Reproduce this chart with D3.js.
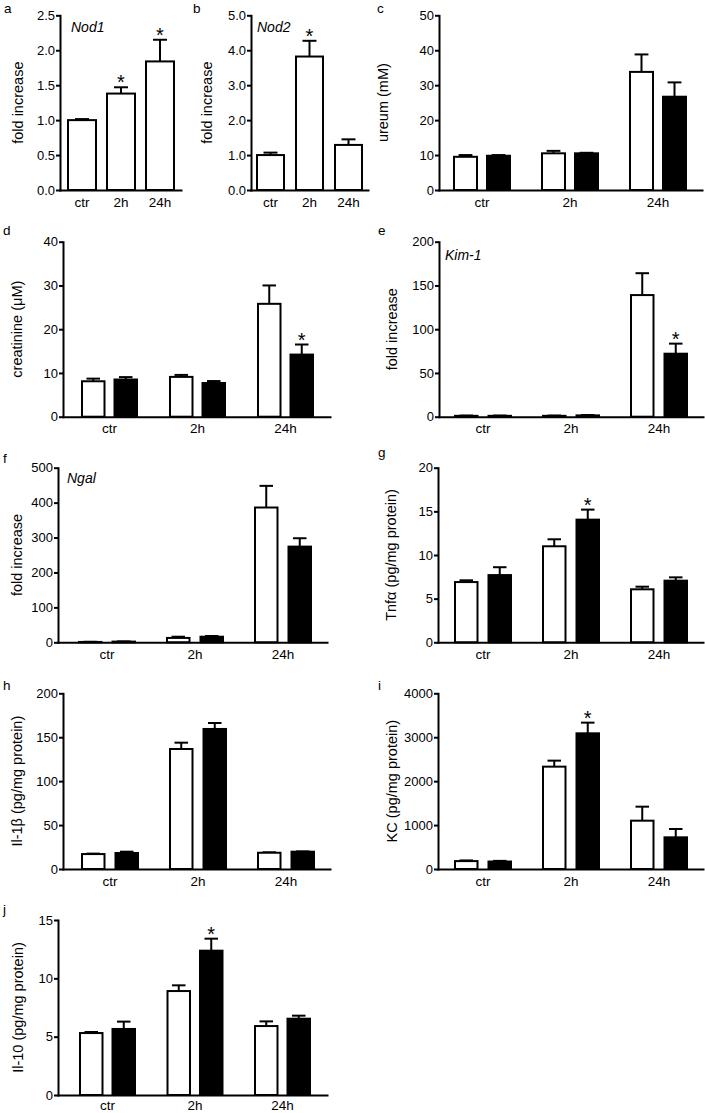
<!DOCTYPE html>
<html><head><meta charset="utf-8">
<script src="https://cdn.jsdelivr.net/npm/d3@7"></script>
<style>
body{margin:0;background:#fff}
svg{display:block}
text{font-family:"Liberation Sans",Arial,Helvetica,sans-serif;fill:#000}
</style>
</head><body>
<svg id="chart" width="705" height="1113"></svg>
<script>
// ---------------- DATA ----------------
const categories = ["ctr", "2h", "24h"];

// a: Nod1
const nod1Mean = [1.00, 1.38, 1.84];
const nod1Sem  = [0.015, 0.09, 0.31];
const nod1Star = [false, true, true];
const nod1Ticks = [0, 0.5, 1.0, 1.5, 2.0, 2.5];
// b: Nod2
const nod2Mean = [1.00, 3.82, 1.29];
const nod2Sem  = [0.07, 0.45, 0.16];
const nod2Star = [false, true, false];
const nod2Ticks = [0, 1, 2, 3, 4, 5];
// c: ureum (white = open bars, black = filled bars)
const ureumWhite = [9.5, 10.5, 33.8];
const ureumWhiteSem = [0.5, 0.7, 5.0];
const ureumBlack = [9.8, 10.5, 26.7];
const ureumBlackSem = [0.2, 0.15, 4.1];
const ureumTicks = [0, 10, 20, 30, 40, 50];
// d: creatinine
const creatWhite = [8.1, 9.1, 25.8];
const creatWhiteSem = [0.6, 0.45, 4.2];
const creatBlack = [8.5, 7.7, 14.2];
const creatBlackSem = [0.55, 0.45, 2.3];
const creatBlackStar = [false, false, true];
const creatTicks = [0, 10, 20, 30, 40];
// e: Kim-1
const kimWhite = [1.0, 1.0, 139];
const kimWhiteSem = [0.3, 0.3, 25];
const kimBlack = [1.0, 1.5, 72];
const kimBlackSem = [0.3, 0.4, 11.5];
const kimBlackStar = [false, false, true];
const kimTicks = [0, 50, 100, 150, 200];
// f: Ngal
const ngalWhite = [1.0, 12.5, 386];
const ngalWhiteSem = [0.5, 3.5, 62];
const ngalBlack = [2.0, 16, 274];
const ngalBlackSem = [0.5, 2, 24];
const ngalTicks = [0, 100, 200, 300, 400, 500];
// g: Tnfa
const tnfWhite = [6.9, 11.0, 6.07];
const tnfWhiteSem = [0.2, 0.8, 0.3];
const tnfBlack = [7.7, 14.05, 7.06];
const tnfBlackSem = [0.9, 1.15, 0.38];
const tnfBlackStar = [false, true, false];
const tnfTicks = [0, 5, 10, 15, 20];
// h: Il-1b
const il1White = [17, 136.6, 18.5];
const il1WhiteSem = [0.5, 7.2, 0.5];
const il1Black = [18.2, 159.4, 19.7];
const il1BlackSem = [1.5, 6.8, 0.3];
const il1Ticks = [0, 50, 100, 150, 200];
// i: KC
const kcWhite = [180, 2330, 1100];
const kcWhiteSem = [15, 137, 319];
const kcBlack = [170, 3089, 721];
const kcBlackSem = [15, 243, 190];
const kcBlackStar = [false, true, false];
const kcTicks = [0, 1000, 2000, 3000, 4000];
// j: Il-10
const il10White = [5.31, 8.91, 5.91];
const il10WhiteSem = [0.09, 0.49, 0.4];
const il10Black = [5.66, 12.37, 6.54];
const il10BlackSem = [0.63, 1.03, 0.26];
const il10BlackStar = [false, true, false];
const il10Ticks = [0, 5, 10, 15];

// ---------------- LAYOUT ----------------
const OPEN = "#ffffff", FILLED = "#000000";
const panels = [
  {letter:"a", lx:4, ly:13, title:"fold increase", tcx:18.5, gene:"Nod1", gx:71, gy:32,
   x0:60, x1:181, yTop:15.3, yBot:190, gStart:68, step:39, gW:28, barW:28,
   ticks:nod1Ticks, fmt:".1f",
   series:[{mean:nod1Mean, sem:nod1Sem, fill:OPEN, star:nod1Star}]},
  {letter:"b", lx:193, ly:13, title:"fold increase", tcx:207, gene:"Nod2", gx:257, gy:32,
   x0:251, x1:368, yTop:15.3, yBot:190, gStart:257, step:39, gW:27, barW:27,
   ticks:nod2Ticks, fmt:".1f",
   series:[{mean:nod2Mean, sem:nod2Sem, fill:OPEN, star:nod2Star}]},
  {letter:"c", lx:377, ly:13, title:"ureum (mM)", tcx:383,
   x0:439, x1:702, yTop:15.3, yBot:190, gStart:454, step:88, gW:56, barW:23,
   ticks:ureumTicks, fmt:"d",
   series:[{mean:ureumWhite, sem:ureumWhiteSem, fill:OPEN},
           {mean:ureumBlack, sem:ureumBlackSem, fill:FILLED}]},
  {letter:"d", lx:3, ly:235, title:"creatinine (\u03BCM)", tcx:17.5,
   x0:63, x1:330, yTop:241.7, yBot:416.7, gStart:82, step:88, gW:55, barW:22.5,
   ticks:creatTicks, fmt:"d",
   series:[{mean:creatWhite, sem:creatWhiteSem, fill:OPEN},
           {mean:creatBlack, sem:creatBlackSem, fill:FILLED, star:creatBlackStar}]},
  {letter:"e", lx:378, ly:235, title:"fold increase", tcx:392, gene:"Kim-1", gx:445, gy:260,
   x0:439, x1:703, yTop:241.7, yBot:416.7, gStart:455, step:88, gW:56, barW:22.5,
   ticks:kimTicks, fmt:"d",
   series:[{mean:kimWhite, sem:kimWhiteSem, fill:OPEN},
           {mean:kimBlack, sem:kimBlackSem, fill:FILLED, star:kimBlackStar}]},
  {letter:"f", lx:3, ly:463, title:"fold increase", tcx:17.5, gene:"Ngal", gx:67, gy:483,
   x0:58, x1:327, yTop:467.7, yBot:642.3, gStart:79, step:88, gW:56, barW:22.5,
   ticks:ngalTicks, fmt:"d",
   series:[{mean:ngalWhite, sem:ngalWhiteSem, fill:OPEN},
           {mean:ngalBlack, sem:ngalBlackSem, fill:FILLED}]},
  {letter:"g", lx:378, ly:457, title:"Tnf\u03B1 (pg/mg protein)", tcx:391,
   x0:438, x1:703, yTop:467.7, yBot:642.3, gStart:455, step:88, gW:56, barW:22.5,
   ticks:tnfTicks, fmt:"d",
   series:[{mean:tnfWhite, sem:tnfWhiteSem, fill:OPEN},
           {mean:tnfBlack, sem:tnfBlackSem, fill:FILLED, star:tnfBlackStar}]},
  {letter:"h", lx:3, ly:690, title:"Il-1\u03B2 (pg/mg protein)", tcx:17,
   x0:63, x1:330, yTop:693.3, yBot:869, gStart:82, step:88, gW:56, barW:22.5,
   ticks:il1Ticks, fmt:"d",
   series:[{mean:il1White, sem:il1WhiteSem, fill:OPEN},
           {mean:il1Black, sem:il1BlackSem, fill:FILLED}]},
  {letter:"i", lx:378, ly:690, title:"KC (pg/mg protein)", tcx:392,
   x0:438, x1:703, yTop:693.3, yBot:869, gStart:455, step:88, gW:56, barW:22.5,
   ticks:kcTicks, fmt:"d",
   series:[{mean:kcWhite, sem:kcWhiteSem, fill:OPEN},
           {mean:kcBlack, sem:kcBlackSem, fill:FILLED, star:kcBlackStar}]},
  {letter:"j", lx:3, ly:914, title:"Il-10 (pg/mg protein)", tcx:18, xpad:5,
   x0:58, x1:327, yTop:920, yBot:1095, gStart:80, step:87.5, gW:55, barW:22.5,
   ticks:il10Ticks, fmt:"d",
   series:[{mean:il10White, sem:il10WhiteSem, fill:OPEN},
           {mean:il10Black, sem:il10BlackSem, fill:FILLED, star:il10BlackStar}]}
];

const svg = d3.select("#chart");
const LW = 2;

function drawPanel(p) {
  const g = svg.append("g");
  const n = categories.length;
  const pi = 1 - p.gW / p.step;
  const po = ((p.x1 - p.x0) / p.step - n + pi) / 2;
  const align = (p.gStart - p.x0) / ((p.x1 - p.x0) - p.step * (n - pi));
  const x = d3.scaleBand().domain(categories).range([p.x0, p.x1])
    .paddingInner(pi).paddingOuter(po).align(align);
  const ns = p.series.length;
  const xs = d3.scaleBand().domain(d3.range(ns)).range([0, x.bandwidth()]);
  if (ns > 1) {
    const si = (p.gW - p.barW) / (ns - 1);
    xs.paddingInner(1 - p.barW / si).paddingOuter(0);
  }
  const y = d3.scaleLinear().domain([0, d3.max(p.ticks)]).range([p.yBot, p.yTop]);

  // bars, error bars, stars
  p.series.forEach((s, si) => {
    const data = categories.map((c, i) => ({c, m: s.mean[i], e: s.sem[i], star: s.star ? s.star[i] : false}));
    const bw = xs.bandwidth();
    const cx = d => x(d.c) + xs(si) + bw / 2;
    g.selectAll(null).data(data).join("line")
      .attr("x1", cx).attr("x2", cx)
      .attr("y1", d => y(d.m)).attr("y2", d => y(d.m + d.e))
      .attr("stroke", "#000").attr("stroke-width", LW);
    const capHalf = Math.min(7, bw * 0.3);
    g.selectAll(null).data(data).join("line")
      .attr("x1", d => cx(d) - capHalf).attr("x2", d => cx(d) + capHalf)
      .attr("y1", d => y(d.m + d.e)).attr("y2", d => y(d.m + d.e))
      .attr("stroke", "#000").attr("stroke-width", LW);
    g.selectAll(null).data(data).join("rect")
      .attr("x", d => x(d.c) + xs(si))
      .attr("width", bw)
      .attr("y", d => y(d.m))
      .attr("height", d => y(0) - y(d.m))
      .attr("fill", s.fill).attr("stroke", "#000").attr("stroke-width", LW);
    g.selectAll(null).data(data.filter(d => d.star)).join("text")
      .attr("x", cx).attr("y", d => y(d.m + d.e) + 2)
      .attr("text-anchor", "middle").style("font-size", "20px").text("*");
  });

  // y axis
  const ya = g.append("g").attr("transform", `translate(${p.x0},0)`)
    .call(d3.axisLeft(y).tickValues(p.ticks).tickFormat(d3.format(p.fmt))
      .tickSizeInner(4).tickSizeOuter(0).tickPadding(1));
  ya.selectAll("path,line").attr("stroke", "#000").attr("stroke-width", LW);
  ya.selectAll("text").style("font-size", "13px").attr("font-family", null);
  // x axis
  const xa = g.append("g").attr("transform", `translate(0,${p.yBot})`)
    .call(d3.axisBottom(x).tickSize(0).tickPadding(p.xpad != null ? p.xpad : 7));
  xa.select("path").attr("stroke", "#000").attr("stroke-width", LW);
  xa.selectAll("text").style("font-size", "13.5px").attr("font-family", null);
  g.selectAll(".domain").attr("stroke-linecap", "square");

  // axis title
  g.append("text")
    .attr("transform", `translate(${p.tcx},${(p.yTop + p.yBot) / 2}) rotate(-90)`)
    .attr("text-anchor", "middle").attr("dy", "0.33em")
    .style("font-size", "14.5px").text(p.title);
  // panel letter
  g.append("text").attr("x", p.lx).attr("y", p.ly).style("font-size", "13.5px").text(p.letter);
  // gene label
  if (p.gene) {
    g.append("text").attr("x", p.gx).attr("y", p.gy)
      .style("font-size", "14px").style("font-style", "italic").text(p.gene);
  }
}

panels.forEach(drawPanel);
</script>
</body></html>
